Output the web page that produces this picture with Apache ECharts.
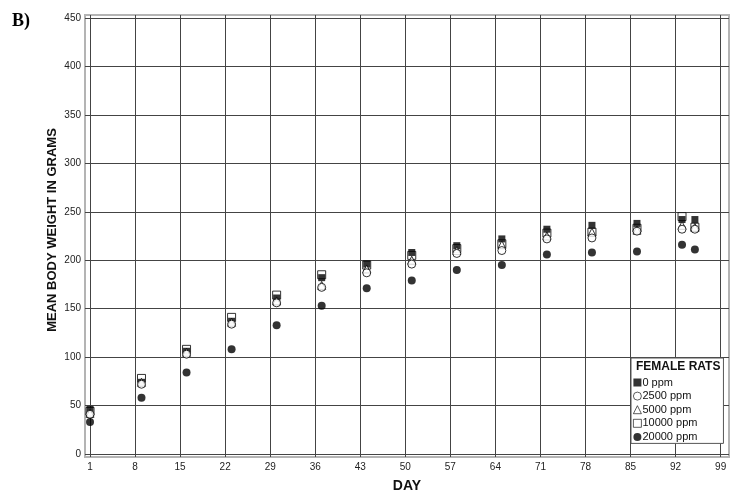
<!DOCTYPE html>
<html><head><meta charset="utf-8">
<script src="https://cdn.jsdelivr.net/npm/echarts@6/dist/echarts.min.js"></script>
<style>html,body{margin:0;padding:0;background:#fff}#c{width:731px;height:491px}</style>
</head><body><div id="c"></div>
<script>
const days = [1, 9, 16, 23, 30, 37, 44, 51, 58, 65, 72, 79, 86, 93, 95];
const ppm0     = [46, 74, 106, 137, 161, 182, 196, 208, 215, 222, 232, 236, 238, 242, 242];
const ppm2500  = [41, 72, 103, 134, 156, 172, 187, 196, 207, 210, 222, 223, 230, 232, 232];
const ppm5000  = [42, 74, 105, 136, 158, 174, 191, 200, 210, 216, 225, 229, 231, 236, 234];
const ppm10000 = [44, 78, 108, 141, 164, 185, 195, 205, 212, 217, 228, 229, 233, 245, 234];
const ppm20000 = [33, 58, 84, 108, 133, 153, 171, 179, 190, 195, 206, 208, 209, 216, 211];
const xTicks = [1, 8, 15, 22, 29, 36, 43, 50, 57, 64, 71, 78, 85, 92, 99];
const yTicks = [0, 50, 100, 150, 200, 250, 300, 350, 400, 450];
const seriesNames = ['0 ppm', '2500 ppm', '5000 ppm', '10000 ppm', '20000 ppm'];

const pts = v => days.map((d, i) => [d, v[i]]);
const chart = echarts.init(document.getElementById('c'));
const font = 'Liberation Sans, Arial, sans-serif';
const openStyle = {color: '#fff', borderColor: '#000', borderWidth: 1};
chart.setOption({
  animation: false,
  grid: {left: 85, right: 2, top: 15, bottom: 34, show: true, borderColor: '#b4b4b4', borderWidth: 2,
         outerBoundsMode: 'none', containLabel: false},
  xAxis: {
    type: 'value', min: 0.22, max: 100.3,
    name: 'DAY', nameLocation: 'middle', nameGap: 22,
    nameTextStyle: {fontFamily: font, fontWeight: 'bold', fontSize: 14, color: '#111'},
    axisLine: {show: false},
    axisTick: {show: false, customValues: xTicks},
    axisLabel: {customValues: xTicks, fontFamily: font, fontSize: 10, color: '#222', margin: 5},
    splitLine: {show: true, lineStyle: {color: '#444', width: 1}}
  },
  yAxis: {
    type: 'value', min: -3.1, max: 453.1,
    axisLine: {show: false},
    axisTick: {show: false, customValues: yTicks},
    axisLabel: {customValues: yTicks, fontFamily: font, fontSize: 10, color: '#222', margin: 4},
    splitLine: {show: true, lineStyle: {color: '#444', width: 1}}
  },
  legend: {
    data: seriesNames,
    orient: 'vertical', left: 631, top: 358,
    padding: [19, 26, 1, 2],
    backgroundColor: '#fff', borderColor: '#555', borderWidth: 1,
    itemWidth: 8, itemHeight: 8, itemGap: 2.6,
    itemStyle: {borderWidth: 0.8},
    textStyle: {fontFamily: font, fontSize: 11, lineHeight: 11, color: '#111', padding: [0, 0, 0, -4]}
  },
  graphic: [
    {type: 'text', left: 12, top: 12, z: 100,
     style: {text: 'B)', font: 'bold 18px "Liberation Serif", "Times New Roman", serif', fill: '#000'}},
    {type: 'text', left: 636, top: 361, z: 100,
     style: {text: 'FEMALE RATS', font: 'bold 12px ' + font, fill: '#111'}},
    {type: 'text', x: 52, y: 230, rotation: Math.PI / 2, z: 100,
     style: {text: 'MEAN BODY WEIGHT IN GRAMS', font: 'bold 13px ' + font, fill: '#111',
             align: 'center', verticalAlign: 'middle'}}
  ],
  series: [
    {name: '10000 ppm', type: 'scatter', symbol: 'rect', symbolSize: 8, z: 2, data: pts(ppm10000), itemStyle: openStyle},
    {name: '0 ppm', type: 'scatter', symbol: 'rect', symbolSize: 7, z: 3, data: pts(ppm0), itemStyle: {color: '#000'}},
    {name: '5000 ppm', type: 'scatter', symbol: 'triangle', symbolSize: 8, z: 4, data: pts(ppm5000), itemStyle: openStyle},
    {name: '2500 ppm', type: 'scatter', symbol: 'circle', symbolSize: 8, z: 5, data: pts(ppm2500), itemStyle: openStyle},
    {name: '20000 ppm', type: 'scatter', symbol: 'circle', symbolSize: 8, z: 6, data: pts(ppm20000), itemStyle: {color: '#000'}}
  ]
});
</script></body></html>
